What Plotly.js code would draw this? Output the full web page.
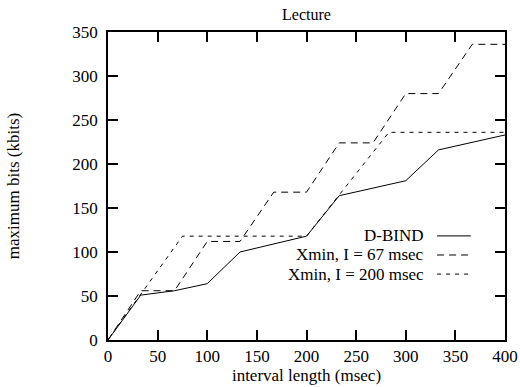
<!DOCTYPE html>
<html>
<head>
<meta charset="utf-8">
<script src="https://cdn.plot.ly/plotly-3.0.1.min.js"></script>
<style>
html,body{margin:0;padding:0;background:#fff;}
#chart{width:520px;height:387px;}
#chart svg text{font-family:"Liberation Serif","Times New Roman",Times,serif !important;}
</style>
</head>
<body>
<div id="chart"></div>
<script>
// Data
const seriesNames = ["D-BIND", "Xmin, I = 67 msec", "Xmin, I = 200 msec"];
const dbindX = [0, 33, 67, 100, 133, 200, 233, 300, 333, 400];
const dbindY = [0, 51, 56, 64, 100, 118, 164, 181, 216, 233];
const xmin67X = [0, 33, 67, 100, 133, 167, 200, 233, 267, 300, 333, 367, 400];
const xmin67Y = [0, 56, 56, 112, 112, 168, 168, 224, 224, 280, 280, 336, 336];
const xmin200X = [0, 75, 200, 283, 400];
const xmin200Y = [0, 118, 118, 236, 236];
const xTicks = [0, 50, 100, 150, 200, 250, 300, 350, 400];
const yTicks = [0, 50, 100, 150, 200, 250, 300, 350];

const dashes = ["solid", "7px,5px", "4px,5px"];
const FAM = "Liberation Serif";
const SZ = 17;

const traces = [
  {x: dbindX, y: dbindY, name: seriesNames[0]},
  {x: xmin67X, y: xmin67Y, name: seriesNames[1]},
  {x: xmin200X, y: xmin200Y, name: seriesNames[2]}
].map((t, i) => Object.assign(t, {
  type: "scatter", mode: "lines",
  line: {color: "#000", width: 1, dash: dashes[i]},
  showlegend: false, hoverinfo: "skip"
}));

// Custom legend: text right-aligned, line sample on the right (as in the reference)
const legRows = [0.338, 0.276, 0.214];
const annotations = seriesNames.map((n, i) => ({
  xref: "paper", yref: "paper", x: 0.80, y: legRows[i],
  xanchor: "right", yanchor: "middle", text: n, showarrow: false,
  font: {family: FAM, size: SZ, color: "#000"}
}));
const shapes = seriesNames.map((n, i) => ({
  type: "line", xref: "paper", yref: "paper",
  x0: 0.829, x1: 0.914, y0: legRows[i], y1: legRows[i],
  line: {color: "#000", width: 1, dash: dashes[i]}
}));

function axisCommon() {
  return {
    showgrid: false, zeroline: false, showline: true, mirror: "allticks",
    linecolor: "#000", linewidth: 1.5, ticks: "inside", ticklen: 10,
    tickwidth: 1.5, tickcolor: "#000",
    tickfont: {family: FAM, size: SZ, color: "#000"}
  };
}

const layout = {
  width: 520, height: 387,
  font: {family: FAM, size: SZ, color: "#000"},
  margin: {l: 107.5, r: 15, t: 32, b: 47, pad: 0},
  paper_bgcolor: "#fff", plot_bgcolor: "#fff",
  title: {text: "Lecture", font: {family: FAM, size: 16, color: "#000"},
          x: 0.5, xref: "paper", y: 1 - 14/387, yanchor: "middle"},
  xaxis: Object.assign(axisCommon(), {
    range: [0, 400], tickvals: xTicks, ticktext: xTicks.map(String),
    title: {text: "interval length (msec)", font: {family: FAM, size: SZ, color: "#000"}, standoff: 0}
  }),
  yaxis: Object.assign(axisCommon(), {
    range: [0, 350], tickvals: yTicks, ticktext: yTicks.map(String),
    ticklabelstandoff: 5,
    title: {text: "maximum bits (kbits)", font: {family: FAM, size: SZ, color: "#000"}, standoff: 48}
  }),
  annotations: annotations,
  shapes: shapes
};

Plotly.newPlot("chart", traces, layout, {displayModeBar: false});
</script>
</body>
</html>
